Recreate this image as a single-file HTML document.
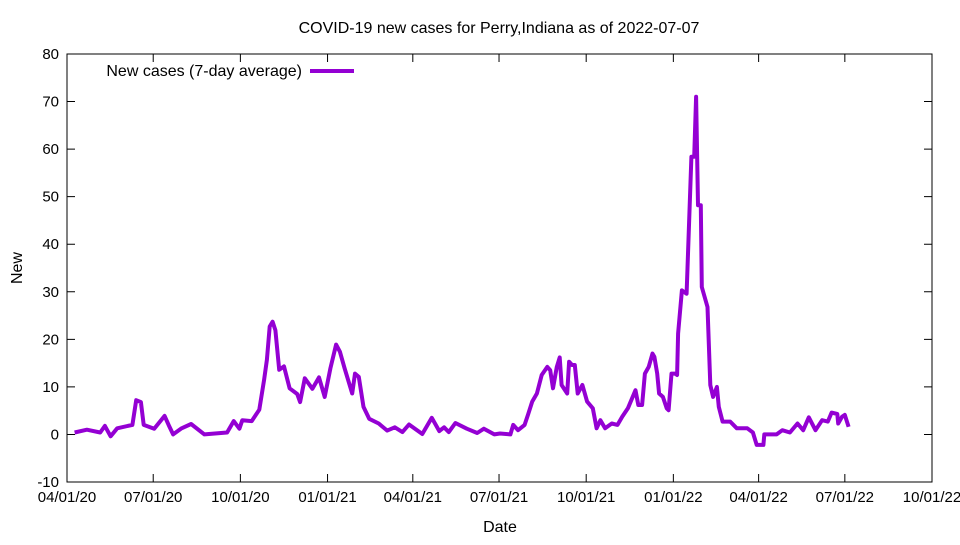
<!DOCTYPE html>
<html><head><meta charset="utf-8"><style>body{margin:0;background:#fff}svg{font-family:"Liberation Sans",sans-serif}</style></head>
<body>
<svg id="chart" width="960" height="540" viewBox="0 0 960 540" xmlns="http://www.w3.org/2000/svg">
<text x="499" y="33" text-anchor="middle" font-size="16">COVID-19 new cases for Perry,Indiana as of 2022-07-07</text>
<text x="22" y="268" text-anchor="middle" font-size="16" transform="rotate(-90 22 268)">New</text>
<text x="500" y="532" text-anchor="middle" font-size="16">Date</text>
<g id="axes"></g>
<g id="series"></g>
<text x="302" y="76" text-anchor="end" font-size="16">New cases (7-day average)</text>
<line x1="310" y1="71" x2="354" y2="71" stroke="#9400d3" stroke-width="4"/>
</svg>
<script>
const days=[8,21,35,40,46,53,69,73,78,81,92,103,108,112,121,131,145,169,176,182,185,195,203,208,211,214,217,220,224,229,235,243,246,251,259,266,272,278,284,288,293,301,304,308,313,319,329,338,346,354,361,375,385,393,398,403,410,422,433,440,451,457,468,471,476,483,487,491,496,501,507,510,513,517,520,522,528,530,533,536,539,544,549,555,559,563,568,575,581,586,592,600,603,607,610,614,618,620,623,625,629,633,635,638,642,644,645,649,654,659,662,664,666,669,670,676,679,682,686,688,692,700,707,718,724,728,735,736,749,755,763,771,777,783,790,797,803,807,813,814,818,821,825];
const values=[0.4,1,0.4,1.8,-0.4,1.3,2,7.2,6.8,2,1.2,3.9,1.7,0,1.3,2.2,0,0.4,2.8,1.2,3,2.8,5.2,11.5,15.7,22.7,23.7,21.9,13.6,14.3,9.7,8.5,6.8,11.8,9.6,12,7.9,13.9,18.9,17.4,13.9,8.6,12.8,12.1,5.8,3.3,2.3,0.8,1.5,0.5,2.1,0.1,3.5,0.7,1.5,0.5,2.4,1.2,0.3,1.2,0,0.2,0,2,0.9,2,4.4,6.9,8.6,12.5,14.2,13.5,9.7,14.2,16.2,10.4,8.6,15.3,14.6,14.6,8.6,10.4,6.9,5.5,1.3,3,1.3,2.3,2,3.7,5.5,9.3,6.2,6.2,12.8,14.2,17,16.3,12.8,8.6,7.9,5.5,5.1,12.8,12.8,12.5,21.2,30.3,29.6,58.4,58.4,71,48.2,48.2,31,26.8,10.4,7.9,10,5.8,2.7,2.7,1.3,1.3,0.4,-2.2,-2.2,0,0,0.9,0.4,2.3,0.9,3.6,0.9,3,2.7,4.6,4.3,2.3,3.7,4.1,1.6];
const yTicks=[-10,0,10,20,30,40,50,60,70,80];
const xTickDays=[0,91,183,275,365,456,548,640,730,821,913];
const xTickLabels=["04/01/20","07/01/20","10/01/20","01/01/21","04/01/21","07/01/21","10/01/21","01/01/22","04/01/22","07/01/22","10/01/22"];
const L=67,R=932,T=54,B=482;
const xs=d=>L+(d/913)*(R-L);
const ys=v=>B-(v+10)/90*(B-T);
const NS="http://www.w3.org/2000/svg";
const ax=document.getElementById('axes');
function mk(tag,attrs,parent){const e=document.createElementNS(NS,tag);for(const k in attrs)e.setAttribute(k,attrs[k]);parent.appendChild(e);return e;}
const frame=mk('rect',{x:L,y:T,width:R-L,height:B-T,fill:'none',stroke:'#000','stroke-width':1},ax);


yTicks.forEach(v=>{const y=ys(v);
 const t=mk('path',{d:`M${L},${y}h8M${R},${y}h-8`,stroke:'#000'},ax);
 
 
 const lb=mk('text',{x:L-8,y:y+5,'text-anchor':'end','font-size':15},ax);lb.textContent=v;
 
 
});
xTickDays.forEach((d,i)=>{const x=xs(d);
 const t=mk('path',{d:`M${x},${B}v-8M${x},${T}v8`,stroke:'#000'},ax);
 
 
 const lb=mk('text',{x:x,y:B+20,'text-anchor':'middle','font-size':15},ax);lb.textContent=xTickLabels[i];
 
 
});
const pts=days.map((d,i)=>xs(d).toFixed(1)+','+ys(values[i]).toFixed(1)).join(' ');
const line=mk('polyline',{points:pts,fill:'none',stroke:'#9400d3','stroke-width':4,'stroke-linejoin':'round'},document.getElementById('series'));


</script>
</body></html>
